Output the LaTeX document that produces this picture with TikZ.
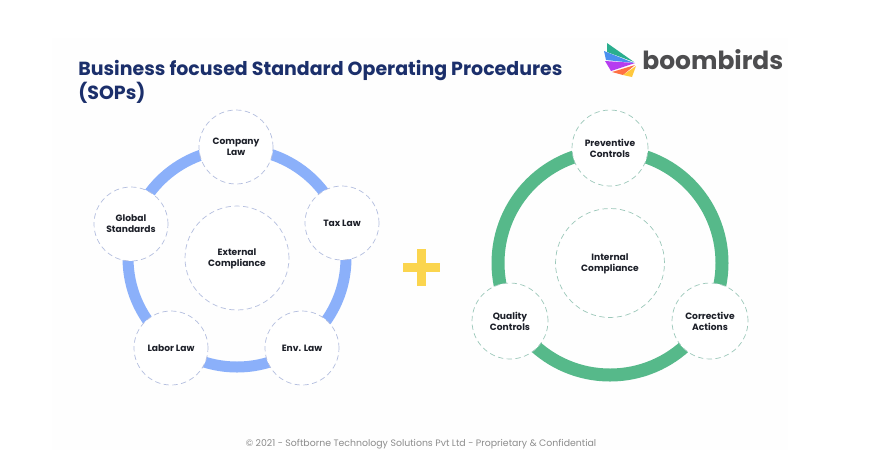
\documentclass[tikz,border=0pt]{standalone}
\usepackage{fontspec}
\setmainfont{Poppins}
\definecolor{navy}{HTML}{1B2F6B}
\definecolor{ink}{HTML}{1C1F28}
\definecolor{ringblue}{HTML}{8BB0FA}
\definecolor{ringgreen}{HTML}{56B98A}
\definecolor{dashblue}{HTML}{B4BEDF}
\definecolor{dashgreen}{HTML}{9CC8BA}
\definecolor{plusyellow}{HTML}{FBD54E}
\definecolor{logogray}{HTML}{4D4D4F}
\definecolor{wingteal}{HTML}{2AAE8E}
\definecolor{wingblue}{HTML}{4A8FEF}
\definecolor{wingpurple}{HTML}{B63DF0}
\definecolor{wingorange}{HTML}{FF7043}
\definecolor{wingyellow}{HTML}{FFC83D}
\tikzset{
  bluenode/.style={circle, draw=dashblue, densely dashed, thin, fill=white, text=ink, align=center, inner sep=0pt,
    font=\fontsize{5.2}{6.2}\selectfont\bfseries},
  greennode/.style={bluenode, draw=dashgreen},
}
\begin{document}
\begin{tikzpicture}[x=0.02cm, y=-0.02cm]
\useasboundingbox (0,0) rectangle (885,468);
\fill [white] (0,0) rectangle (885,468);
\fill [black!0.3] (52,38) rectangle (788,450);
% heading
\node [right, text=navy, font=\fontsize{10.8}{12.4}\selectfont\bfseries, align=left, inner sep=0pt] (title) at (78,82) {Business focused Standard Operating Procedures\\(SOPs)};
% logo
\fill [wingteal] (607,43) -- (634,62) -- (607,52) -- cycle;
\fill [wingblue] (604,51) -- (634,63) -- (606,60) -- cycle;
\fill [wingpurple] (605,61) -- (635,63) -- (611,71) -- cycle;
\fill [wingorange] (612,72) -- (635,65) -- (623,75) -- cycle;
\fill [wingyellow] (623,75) -- (636,66) -- (632,77) -- cycle;
\node [right, text=logogray, font=\fontsize{14.2}{15}\selectfont\bfseries, inner sep=0pt] (logo) at (642,60) {boombirds};
% left ring
\draw [ringblue, line width=0.22cm] (237,258) circle (109);
\node [bluenode, minimum size=2.08cm, text depth=0pt] (external) at (237,258) {External\\Compliance};
\node [bluenode, minimum size=1.48cm] (company) at (236,147) {Company\\Law};
\node [bluenode, minimum size=1.48cm] (tax) at (342,223) {Tax Law};
\node [bluenode, minimum size=1.48cm] (env) at (302,348) {Env. Law};
\node [bluenode, minimum size=1.48cm] (labor) at (171,348) {Labor Law};
\node [bluenode, minimum size=1.48cm] (global) at (131,224) {Global\\Standards};
% plus
\fill [plusyellow] (403,263) rectangle (440,272);
\fill [plusyellow] (417,249) rectangle (426,286);
% right ring
\draw [ringgreen, line width=0.26cm] (610,263) circle (112);
\node [greennode, minimum size=2.18cm, text depth=0pt] (internal) at (610,263) {Internal\\Compliance};
\node [greennode, minimum size=1.52cm] (preventive) at (610,148) {Preventive\\Controls};
\node [greennode, minimum size=1.52cm] (corrective) at (710,321) {Corrective\\Actions};
\node [greennode, minimum size=1.52cm] (quality) at (510,321) {Quality\\Controls};
% footer
\node [text=black!45, font=\fontsize{5.33}{6}\selectfont, inner sep=0pt] (footer) at (421,444) {© 2021 - Softborne Technology Solutions Pvt Ltd - Proprietary \& Confidential};
\end{tikzpicture}
\end{document}
